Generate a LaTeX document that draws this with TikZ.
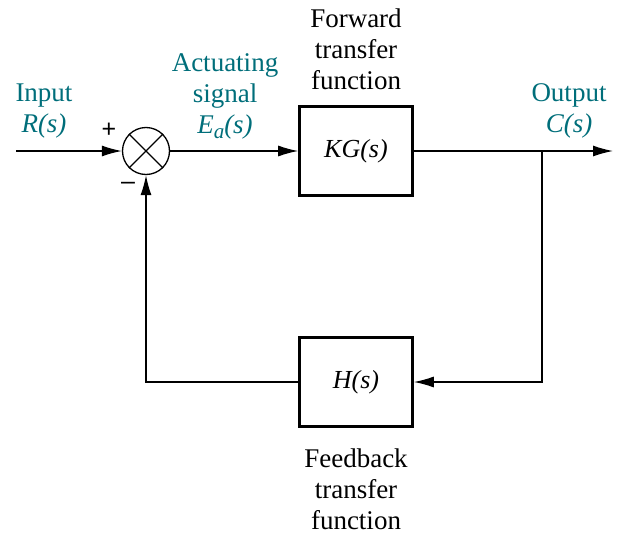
\documentclass[tikz,border=0pt]{standalone}
\usepackage{fontspec}
\setmainfont{Liberation Serif}
\setsansfont{Liberation Sans}
\usepackage{tikz}
\usetikzlibrary{arrows.meta}
\definecolor{teal1}{RGB}{0,110,122}
\begin{document}
\begin{tikzpicture}[x=1pt,y=-1pt,
  blk/.style={draw,line width=2.6pt,minimum width=113pt,minimum height=89pt,inner sep=0pt,font=\fontsize{26}{30}\selectfont\itshape},
  lbl/.style={align=center,font=\fontsize{27}{31}\selectfont,inner sep=0pt},
  tlbl/.style={lbl,text=teal1},
  ln/.style={line width=1.3pt},
  arr/.style={ln,-{Latex[length=20pt,width=11pt]}}]
\useasboundingbox (0,0) rectangle (630,541);
\node[blk] (kg) at (356,151) {KG(s)};
\node[blk] (h) at (356,382) {H(s)};
\node[draw,ln,circle,minimum size=47pt,inner sep=0pt] (sum) at (146,151) {};
\draw[ln] (sum.45) -- (sum.225) (sum.135) -- (sum.315);
\coordinate (in) at (16,151);
\coordinate (out) at (613,151);
\coordinate (br) at (542,151);
\coordinate (brd) at (542,382);
\coordinate (fl) at (146,382);
\draw[arr] (in) -- (sum.west);
\draw[arr] (sum.east) -- (kg.west);
\draw[arr] (kg.east) -- (out);
\draw[arr] (br) -- (brd) -- (h.east);
\draw[arr] (h.west) -- (fl) -- (sum.south);
\node[font=\fontsize{25}{25}\selectfont\sffamily] (plus) at (109,130) {+};
\node[font=\fontsize{25}{25}\selectfont\sffamily] (minus) at (128,186) {\textendash};
\node[tlbl] (inlbl) at (44,111) {Input\\\textit{R(s)}};
\node[tlbl] (aclbl) at (225,96) {Actuating\\signal\\\textit{E\raisebox{-5pt}{\fontsize{21}{21}\selectfont a}(s)}};
\node[tlbl] (outlbl) at (569,111) {Output\\\textit{C(s)}};
\node[lbl] (fwd) at (356,49) {Forward\\transfer\\function};
\node[lbl] (fb) at (356,489) {Feedback\\transfer\\function};
\end{tikzpicture}
\end{document}
